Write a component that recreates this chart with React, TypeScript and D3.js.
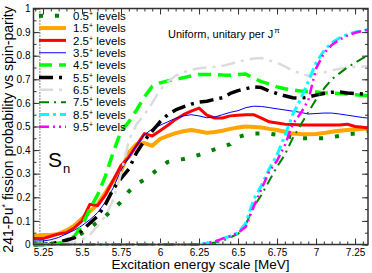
import React, { useRef, useEffect } from "react";
import * as d3 from "d3";

// excitation energy grid (MeV)
const energies = [5.19, 5.25, 5.3, 5.35, 5.4, 5.45, 5.5, 5.55, 5.6, 5.65, 5.7, 5.75, 5.8, 5.85, 5.9, 5.95, 6.0, 6.05, 6.1, 6.15, 6.2, 6.25, 6.3, 6.35, 6.4, 6.45, 6.5, 6.55, 6.6, 6.65, 6.7, 6.75, 6.8, 6.85, 6.9, 6.95, 7.0, 7.05, 7.1, 7.15, 7.2, 7.25, 7.3, 7.33];

// fission probability per spin-parity
const p05 = [0, 0, 0.002, 0.008, 0.018, 0.03, 0.048, 0.07, 0.095, 0.12, 0.15, 0.18, 0.225, 0.255, 0.275, 0.3, 0.325, 0.35, 0.358, 0.362, 0.37, 0.38, 0.392, 0.403, 0.413, 0.425, 0.455, 0.465, 0.47, 0.47, 0.47, 0.465, 0.46, 0.455, 0.45, 0.45, 0.45, 0.45, 0.455, 0.46, 0.467, 0.47, 0.477, 0.48];
const p15 = [0.035, 0.04, 0.04, 0.045, 0.06, 0.08, 0.11, 0.14, 0.17, 0.22, 0.27, 0.31, 0.39, 0.425, 0.43, 0.418, 0.447, 0.46, 0.472, 0.48, 0.485, 0.48, 0.473, 0.477, 0.482, 0.49, 0.496, 0.5, 0.498, 0.496, 0.49, 0.485, 0.478, 0.47, 0.468, 0.467, 0.468, 0.472, 0.478, 0.482, 0.485, 0.487, 0.49, 0.49];
const p25 = [0.025, 0.025, 0.035, 0.045, 0.05, 0.07, 0.1, 0.17, 0.165, 0.21, 0.273, 0.335, 0.37, 0.42, 0.47, 0.46, 0.482, 0.505, 0.53, 0.55, 0.565, 0.578, 0.548, 0.536, 0.536, 0.545, 0.548, 0.55, 0.55, 0.535, 0.52, 0.515, 0.51, 0.508, 0.506, 0.506, 0.506, 0.506, 0.506, 0.506, 0.51, 0.5, 0.497, 0.494];
const p35 = [0.015, 0.015, 0.02, 0.03, 0.045, 0.06, 0.08, 0.105, 0.135, 0.18, 0.24, 0.315, 0.37, 0.42, 0.465, 0.49, 0.505, 0.52, 0.535, 0.545, 0.55, 0.545, 0.537, 0.54, 0.55, 0.56, 0.567, 0.58, 0.586, 0.585, 0.58, 0.575, 0.57, 0.565, 0.56, 0.553, 0.555, 0.557, 0.557, 0.553, 0.548, 0.543, 0.538, 0.536];
const p45 = [0, 0, 0, 0.005, 0.015, 0.035, 0.08, 0.15, 0.21, 0.29, 0.39, 0.48, 0.52, 0.57, 0.625, 0.67, 0.685, 0.693, 0.7, 0.707, 0.714, 0.72, 0.72, 0.72, 0.718, 0.717, 0.72, 0.722, 0.705, 0.69, 0.68, 0.668, 0.66, 0.655, 0.65, 0.648, 0.646, 0.643, 0.641, 0.64, 0.638, 0.635, 0.632, 0.63];
const p55 = [0, 0, 0.003, 0.01, 0.018, 0.028, 0.06, 0.09, 0.12, 0.17, 0.235, 0.28, 0.32, 0.39, 0.44, 0.48, 0.52, 0.55, 0.57, 0.583, 0.595, 0.603, 0.607, 0.615, 0.622, 0.64, 0.652, 0.66, 0.668, 0.665, 0.65, 0.64, 0.63, 0.622, 0.62, 0.625, 0.633, 0.64, 0.645, 0.646, 0.642, 0.64, 0.638, 0.637];
const p65 = [0, 0, 0, 0.002, 0.005, 0.01, 0.02, 0.04, 0.08, 0.12, 0.19, 0.3, 0.44, 0.51, 0.55, 0.6, 0.655, 0.69, 0.715, 0.73, 0.74, 0.747, 0.75, 0.753, 0.757, 0.765, 0.775, 0.782, 0.788, 0.79, 0.78, 0.77, 0.755, 0.737, 0.725, 0.715, 0.72, 0.728, 0.738, 0.745, 0.749, 0.752, 0.754, 0.755];
const p75 = [0, 0, 0, 0, 0, 0, 0, 0, 0, 0, 0, 0, 0, 0, 0, 0, 0, 0, 0, 0, 0, 0, 0.003, 0.008, 0.015, 0.03, 0.045, 0.085, 0.16, 0.21, 0.27, 0.33, 0.38, 0.45, 0.505, 0.56, 0.615, 0.66, 0.7, 0.725, 0.75, 0.77, 0.79, 0.8];
const p85 = [0, 0, 0, 0, 0, 0, 0, 0, 0, 0, 0, 0, 0, 0, 0, 0, 0, 0, 0, 0, 0, 0, 0.005, 0.012, 0.025, 0.035, 0.05, 0.09, 0.19, 0.25, 0.32, 0.38, 0.46, 0.55, 0.615, 0.69, 0.77, 0.82, 0.855, 0.875, 0.89, 0.9, 0.905, 0.91];
const p95 = [0, 0, 0, 0, 0, 0, 0, 0, 0, 0, 0, 0, 0, 0, 0, 0, 0, 0, 0, 0, 0, 0, 0.005, 0.012, 0.025, 0.035, 0.05, 0.075, 0.16, 0.235, 0.31, 0.355, 0.42, 0.51, 0.555, 0.61, 0.745, 0.81, 0.845, 0.868, 0.885, 0.897, 0.905, 0.91];

const spinLabels = ["0.5", "1.5", "2.5", "3.5", "4.5", "5.5", "6.5", "7.5", "8.5", "9.5"];
const seriesValues = [p05, p15, p25, p35, p45, p55, p65, p75, p85, p95];

const xTickVals = [5.25, 5.5, 5.75, 6, 6.25, 6.5, 6.75, 7, 7.25];
const xTickLabels = ["5.25", "5.5", "5.75", "6", "6.25", "6.5", "6.75", "7", "7.25"];
const yTickVals = [0, 0.1, 0.2, 0.3, 0.4, 0.5, 0.6, 0.7, 0.8, 0.9, 1];
const yTickLabels = ["0", "0.1", "0.2", "0.3", "0.4", "0.5", "0.6", "0.7", "0.8", "0.9", "1"];
const sepEnergy = 5.23; // S_n marker

const FONT = "'Liberation Sans', Arial, Helvetica, sans-serif";

// line look for each spin (same order as spinLabels)
const looks = [
  { color: "#008000", width: 4, dash: "4 12" },
  { color: "#ffa500", width: 4, dash: null },
  { color: "#ff0000", width: 3, dash: null },
  { color: "#0000ff", width: 1, dash: null },
  { color: "#00ff00", width: 3.5, dash: "13 7" },
  { color: "#000000", width: 3.5, dash: "14 6 3 6" },
  { color: "#dcdcdc", width: 2.5, dash: "14 6 3 6" },
  { color: "#008000", width: 2, dash: "10 5 2 5" },
  { color: "#00ffff", width: 3, dash: "10 4 3 4" },
  { color: "#ff00ff", width: 2.5, dash: "10 4 2 4 2 4" },
];

function FissionChart() {
  const canvas = useRef<SVGSVGElement>(null);

  useEffect(() => {
    const left = 33.5, right = 368, top = 8.5, bottom = 244.5;
    const svg = d3.select(canvas.current);
    svg.selectAll("*").remove();

    const x = d3.scaleLinear().domain([5.189, 7.333]).range([left, right]);
    const y = d3.scaleLinear().domain([0, 1]).range([bottom, top]);

    const minorX = d3.range(5.2, 7.33, 0.05);
    const minorY = d3.range(0, 1.001, 0.05);

    const tidy = (g: any) => {
      g.select(".domain").remove();
      g.selectAll("line").attr("stroke", "#333").attr("stroke-width", 1);
      g.selectAll("text").attr("font-family", FONT).attr("font-size", 10).attr("fill", "#000");
    };
    // minor ticks: no labels at all
    const bare = (g: any) => {
      tidy(g);
      g.selectAll("text").remove();
    };
    const noLabel = () => "";

    // bottom
    svg.append("g").attr("transform", `translate(0,${bottom})`)
      .call(d3.axisBottom(x).tickValues(minorX).tickSize(-3).tickFormat(noLabel)).call(bare);
    svg.append("g").attr("transform", `translate(0,${bottom})`)
      .call(d3.axisBottom(x).tickValues(xTickVals).tickSize(-6).tickPadding(4)
        .tickFormat((d, i) => xTickLabels[i])).call(tidy);
    // top
    svg.append("g").attr("transform", `translate(0,${top})`)
      .call(d3.axisTop(x).tickValues(minorX).tickSize(-3).tickFormat(noLabel)).call(bare);
    svg.append("g").attr("transform", `translate(0,${top})`)
      .call(d3.axisTop(x).tickValues(xTickVals).tickSize(-6).tickFormat(noLabel)).call(bare);
    // left
    svg.append("g").attr("transform", `translate(${left},0)`)
      .call(d3.axisLeft(y).tickValues(minorY).tickSize(-3).tickFormat(noLabel)).call(bare);
    svg.append("g").attr("transform", `translate(${left},0)`)
      .call(d3.axisLeft(y).tickValues(yTickVals).tickSize(-6).tickPadding(3)
        .tickFormat((d, i) => yTickLabels[i])).call(tidy);
    // right
    svg.append("g").attr("transform", `translate(${right},0)`)
      .call(d3.axisRight(y).tickValues(minorY).tickSize(-3).tickFormat(noLabel)).call(bare);
    svg.append("g").attr("transform", `translate(${right},0)`)
      .call(d3.axisRight(y).tickValues(yTickVals).tickSize(-6).tickFormat(noLabel)).call(bare);

    // S_n dotted marker
    svg.append("line")
      .attr("x1", x(sepEnergy)).attr("x2", x(sepEnergy))
      .attr("y1", y(1)).attr("y2", y(0))
      .attr("stroke", "#000").attr("stroke-width", 1).attr("stroke-dasharray", "1 2");

    // curves
    const line = d3.line<number>()
      .x((d, i) => x(energies[i]))
      .y((d) => y(d));

    seriesValues.forEach((vals, k) => {
      const lk = looks[k];
      svg.append("path")
        .attr("d", line(vals))
        .attr("fill", "none")
        .attr("stroke", lk.color)
        .attr("stroke-width", lk.width)
        .attr("stroke-dasharray", lk.dash)
        .attr("stroke-linejoin", "round");
    });

    // frame
    svg.append("rect")
      .attr("x", left).attr("y", top)
      .attr("width", right - left).attr("height", bottom - top)
      .attr("fill", "none").attr("stroke", "#333").attr("stroke-width", 1.5);

    // legend
    const leg = svg.append("g");
    spinLabels.forEach((lab, k) => {
      const ly = 15.7 + k * 12.35;
      const lk = looks[k];
      leg.append("line")
        .attr("x1", 39).attr("x2", 66).attr("y1", ly).attr("y2", ly)
        .attr("stroke", lk.color).attr("stroke-width", lk.width)
        .attr("stroke-dasharray", lk.dash);
      const t = leg.append("text")
        .attr("x", 73).attr("y", ly).attr("dy", "0.36em")
        .attr("font-family", FONT).attr("font-size", 11.5);
      t.append("tspan").text(lab);
      t.append("tspan").attr("font-size", 7).attr("dy", "-4").text("+");
      t.append("tspan").attr("dy", "4").text(" levels");
    });

    // annotation
    const ann = svg.append("text")
      .attr("x", 168).attr("y", 38)
      .attr("font-family", FONT).attr("font-size", 11);
    ann.append("tspan").text("Uniform, unitary per J");
    ann.append("tspan").attr("font-size", 8).attr("dy", "-5").attr("dx", "1").text("\u03c0");

    const sn = svg.append("text")
      .attr("x", 48).attr("y", 167)
      .attr("font-family", FONT).attr("font-size", 21);
    sn.append("tspan").text("S");
    sn.append("tspan").attr("font-size", 13).attr("dy", "6").attr("dx", "1").text("n");

    // axis titles
    svg.append("text")
      .attr("x", 200.5).attr("y", 268.5)
      .attr("text-anchor", "middle")
      .attr("font-family", FONT).attr("font-size", 13.5)
      .text("Excitation energy scale [MeV]");

    const yt = svg.append("text")
      .attr("transform", "translate(13,129.5) rotate(-90)")
      .attr("text-anchor", "middle")
      .attr("font-family", FONT).attr("font-size", 14);
    yt.append("tspan").text("241-Pu");
    yt.append("tspan").attr("font-size", 9).attr("dy", "-5").text("*");
    yt.append("tspan").attr("dy", "5").text(" fission probability vs spin-parity");
  }, []);

  return (
    <svg
      ref={canvas}
      width={372}
      height={273}
      style={{ position: "absolute", left: 0, top: 0, background: "#fff" }}
    />
  );
}

export default function App() {
  return <FissionChart />;
}
